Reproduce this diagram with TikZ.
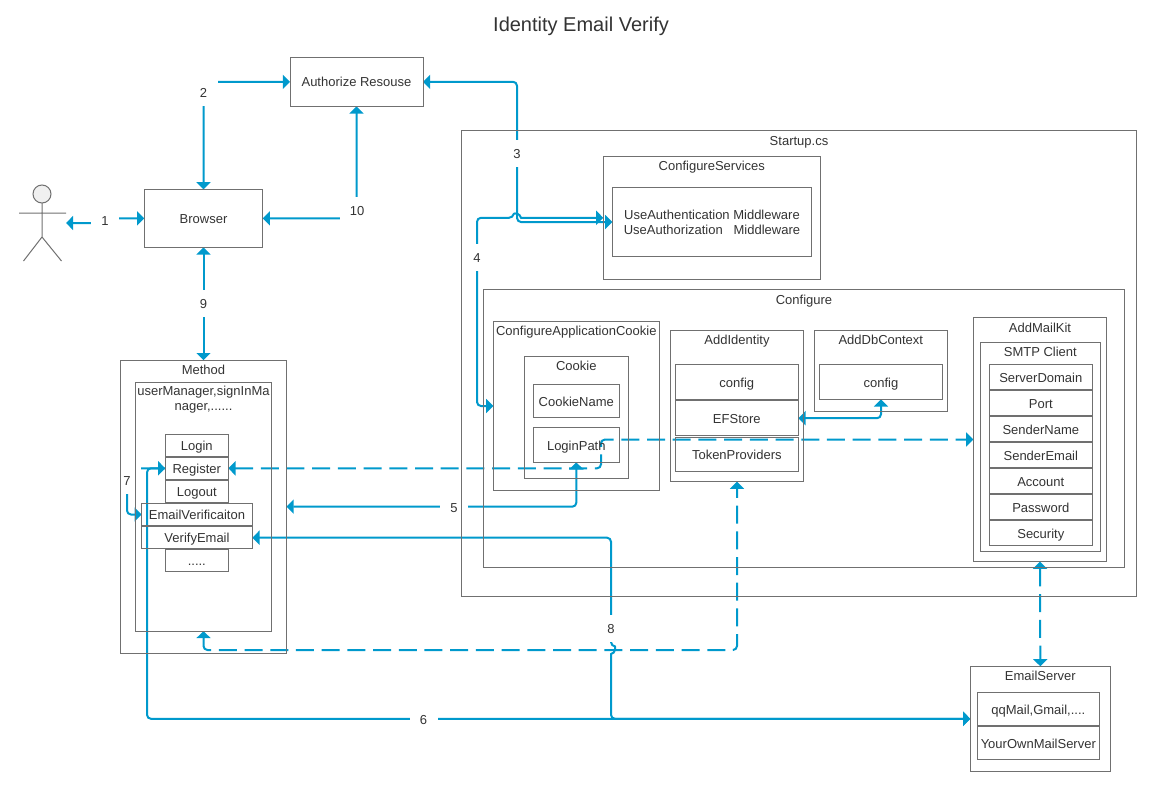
\documentclass[tikz,border=0pt]{standalone}
\usepackage{fontspec}
\setmainfont{Liberation Sans}
\usetikzlibrary{arrows.meta,backgrounds}
\definecolor{flowblue}{RGB}{0,153,204}
\definecolor{linegray}{RGB}{112,112,112}
\definecolor{textgray}{RGB}{51,51,51}
\tikzset{
  every picture/.style={line width=0.75pt},
  wh/.style 2 args={minimum width=#1*0.75pt,minimum height=#2*0.75pt},
  boxbase/.style={draw=linegray,line width=0.75pt,rectangle,inner sep=0pt,outer sep=0pt,font=\fontsize{9.75}{11.25}\selectfont,text=textgray},
  boxnode/.style={boxbase,text height=7.8pt,text depth=0pt},
  toptext/.style={inner sep=0pt,font=\fontsize{9.75}{11.25}\selectfont,text=textgray,text height=7.8pt,text depth=0pt},
  flowlabel/.style={fill=white,inner sep=0pt,wh={28}{27},font=\fontsize{9.75}{11.25}\selectfont,text=textgray,text height=7.8pt,text depth=0pt},
  flow/.style={draw=flowblue,line width=1.5pt,rounded corners=3pt,>={Triangle[length=5.4pt,width=10.5pt]}},
  flowdash/.style={flow,dash pattern=on 13.5pt off 5.78pt}
}

\begin{document}
\begin{tikzpicture}[x=0.75pt,y=0.75pt,yscale=-1,xscale=1]
\path[use as bounding box] (0,0) rectangle (1156,792);

% Title
\node (title) [inner sep=0pt,font=\fontsize{15}{18}\selectfont,text=textgray] at (581,26) {Identity Email Verify};

% Actor
\draw [linegray,fill=black!6] (42,194) circle (9);
\draw [linegray] (42,203) -- (42,237) (19,213) -- (66,213) (42,237) -- (23.5,261) (42,237) -- (61.5,261);
\coordinate (actorhand) at (66,223);

% Browser and resource
\node (auth) [boxnode,wh={133}{49}] at (356.5,81.8) {Authorize Resouse};
\node (browser) [boxnode,wh={118.5}{58}] at (203.5,218.3) {Browser};

% Method
\node (method) [boxbase,wh={166}{293}] at (203.5,506.7) {};
\node (methodtxt) [toptext] at (203.5,369.5) {Method};
\node (manager) [boxbase,wh={136.4}{249}] at (203.5,506.5) {};
\node (managertxt) [inner sep=0pt,align=center,font=\fontsize{9.75}{11.25}\selectfont,text=textgray] at (203.5,399.5) {userManager,signInMa\\nager,......};
\node (login) [boxnode,wh={63}{22}] at (196.8,445.3) {Login};
\node (register) [boxnode,wh={63}{22}] at (196.8,468.3) {Register};
\node (logout) [boxnode,wh={63}{22}] at (196.8,491.3) {Logout};
\node (emailverif) [boxnode,wh={110.6}{22.4}] at (197,514.5) {EmailVerificaiton};
\node (verify) [boxnode,wh={110.6}{22}] at (197,537.7) {VerifyEmail};
\node (dots) [boxnode,wh={63}{22}] at (196.8,560.3) {.....};

% Startup
\node (startup) [boxbase,wh={675}{466}] at (799,363.5) {};
\node (startuptxt) [toptext] at (799,140) {Startup.cs};
\node (services) [boxbase,wh={217}{123}] at (711.8,217.8) {};
\node (servicestxt) [toptext] at (711.8,165.5) {ConfigureServices};
\node (middleware) [boxbase,wh={199.4}{69.4},align=center] at (712,222) {UseAuthentication Middleware\\UseAuthorization\ \ \ Middleware};

% Configure
\node (configure) [boxbase,wh={641}{278}] at (804,428.5) {};
\node (configuretxt) [toptext] at (804,299) {Configure};
\node (appcookie) [boxbase,wh={166}{169.4}] at (576.3,406) {};
\node (appcookietxt) [toptext] at (576.3,330.5) {ConfigureApplicationCookie};
\node (cookie) [boxbase,wh={104}{122}] at (576.3,417.3) {};
\node (cookietxt) [toptext] at (576.3,365.5) {Cookie};
\node (cookiename) [boxnode,wh={86}{33}] at (576.3,400.8) {CookieName};
\node (loginpath) [boxnode,wh={86}{35}] at (576.3,444.8) {LoginPath};
\node (identity) [boxbase,wh={133.4}{151.4}] at (737,406) {};
\node (identitytxt) [toptext] at (737,339.5) {AddIdentity};
\node (identityconfig) [boxnode,wh={123}{35}] at (736.8,381.8) {config};
\node (efstore) [boxnode,wh={123}{35}] at (736.8,418.2) {EFStore};
\node (tokens) [boxnode,wh={123}{34.3}] at (736.8,454.2) {TokenProviders};
\node (dbcontext) [boxbase,wh={133}{81}] at (880.8,370.8) {};
\node (dbcontexttxt) [toptext] at (880.8,339.5) {AddDbContext};
\node (dbconfig) [boxnode,wh={123.4}{35}] at (881,381.8) {config};

% Mail kit
\node (mailkit) [boxbase,wh={133.4}{244.4}] at (1040,439.5) {};
\node (mailkittxt) [toptext] at (1040,327) {AddMailKit};
\node (smtp) [boxbase,wh={120}{209}] at (1040.3,446.8) {};
\node (smtptxt) [toptext] at (1040.3,351.5) {SMTP Client};
\node (serverdomain) [boxnode,wh={103}{25}] at (1040.8,377) {ServerDomain};
\node (port) [boxnode,wh={103}{25}] at (1040.8,403) {Port};
\node (sendername) [boxnode,wh={103}{25}] at (1040.8,429) {SenderName};
\node (senderemail) [boxnode,wh={103}{25}] at (1040.8,455) {SenderEmail};
\node (account) [boxnode,wh={103}{25}] at (1040.8,481) {Account};
\node (password) [boxnode,wh={103}{25}] at (1040.8,507) {Password};
\node (security) [boxnode,wh={103}{25}] at (1040.8,533) {Security};

% Email server
\node (emailserver) [boxbase,wh={140}{105}] at (1040.3,718.8) {};
\node (emailservertxt) [toptext] at (1040.3,675.5) {EmailServer};
\node (qqmail) [boxnode,wh={122}{33}] at (1038.3,708.8) {qqMail,Gmail,....};
\node (ownmail) [boxnode,wh={122}{33}] at (1038.3,742.8) {YourOwnMailServer};

% Connectors and their labels, below the boxes
\coordinate (bendone) at (105,218.3);
\coordinate (bendthree) at (517,222);
\coordinate (bendfour) at (477,217.8);
\coordinate (bendsix) at (147,718.8);
\coordinate (bendseven) at (127,468.3);
\coordinate (bendsevenb) at (127,514.5);
\coordinate (benddash) at (601,439.5);
\coordinate (bendbottom) at (737,650);
\begin{scope}[on background layer]
\draw [flow,<->] (actorhand) -| (bendone) -- (browser.west);
\draw [flow,<->] (browser.north) |- (auth.west);
\draw [flow,<->] (auth.east) -| (bendthree) -- (middleware.west);
\draw [flow,<->] (appcookie.west) -| (bendfour) -- (513,217.8) [sharp corners] .. controls (514,213) and (520,213) .. (521,217.8) -- (services.west);
\draw [flow,<->] (method.east) -| (loginpath.south);
\draw [flow,<->] (register.west) -| (bendsix) -- (emailserver.west);
\draw [flow,->] (register.west) -- (bendseven) -- (bendsevenb) -- (emailverif.west);
\draw [flow,<->] (verify.east) -| (611,646) [sharp corners] .. controls (615.5,646.5) and (615.5,653.5) .. (611,654) [rounded corners=3pt] |- (emailserver.west);
\draw [flow,<->] (browser.south) -- (method.north);
\draw [flow,<->] (browser.east) -| (auth.south);
\draw [flow,<->] (efstore.east) -| (dbconfig.south);
\draw [flowdash,<->] (register.east) -| (benddash) -- (mailkit.west);
\draw [flowdash,<->] (manager.south) |- (bendbottom) -- (identity.south);
\draw [flowdash,<->] (mailkit.south) -- (emailserver.north);

\node (stepone) [flowlabel] at (105,220) {1};
\node (steptwo) [flowlabel] at (203.5,92) {2};
\node (stepthree) [flowlabel] at (517,153) {3};
\node (stepfour) [flowlabel] at (477,257) {4};
\node (stepfive) [flowlabel] at (454,507) {5};
\node (stepsix) [flowlabel] at (423.5,718.8) {6};
\node (stepseven) [flowlabel] at (127,480) {7};
\node (stepeight) [flowlabel] at (611,628) {8};
\node (stepnine) [flowlabel] at (203.5,303) {9};
\node (stepten) [flowlabel,wh={34}{27}] at (357,210.5) {10};
\end{scope}

\end{tikzpicture}
\end{document}
